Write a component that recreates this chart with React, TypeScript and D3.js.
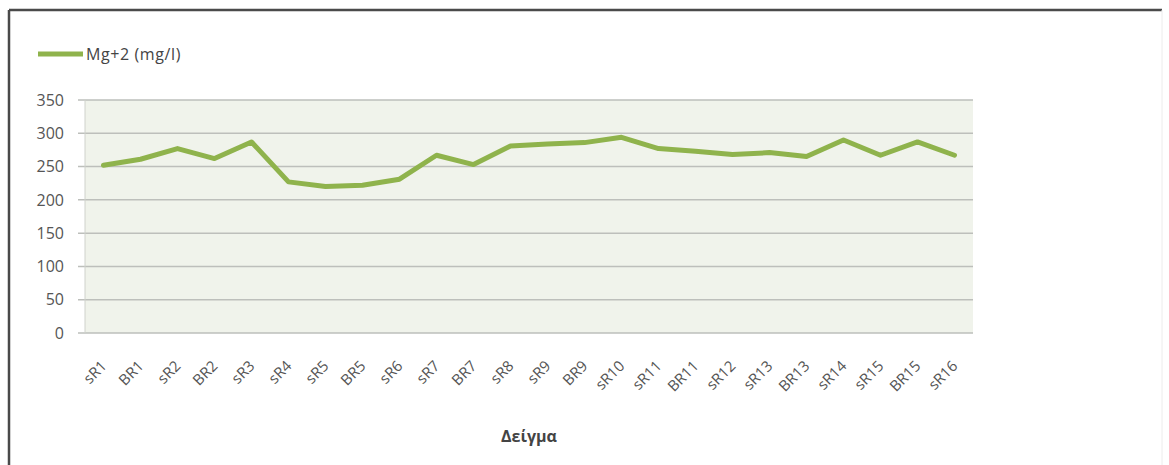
import React from "react";
import * as d3 from "d3";

const categories = [
  "sR1", "BR1", "sR2", "BR2", "sR3", "sR4", "sR5", "BR5", "sR6", "sR7", "BR7", "sR8",
  "sR9", "BR9", "sR10", "sR11", "BR11", "sR12", "sR13", "BR13", "sR14", "sR15", "BR15", "sR16",
];
const mgValues = [
  252, 261, 277, 262, 287, 227, 220, 222, 231, 267, 253, 281,
  284, 286, 294, 277, 273, 268, 271, 265, 290, 267, 287, 267,
];
const yTicks = [0, 50, 100, 150, 200, 250, 300, 350];
const seriesName = "Mg+2 (mg/l)";
const xTitle = "Δείγμα";

const W = 1169;
const H = 465;
const plot = { left: 85, right: 973, top: 100, bottom: 333 };
const lineColor = "#8fb34c";
const font = "'Open Sans', 'Noto Sans', sans-serif";

export default function App() {
  const x = d3
    .scaleBand<string>()
    .domain(categories)
    .range([plot.left, plot.right]);
  const y = d3.scaleLinear().domain([0, 350]).range([plot.bottom, plot.top]);
  const cx = (c: string) => (x(c) ?? 0) + x.bandwidth() / 2;

  const line = d3
    .line<number>()
    .x((_, i) => cx(categories[i]))
    .y((d) => y(d));

  return (
    <svg
      width={W}
      height={H}
      style={{ position: "absolute", left: 0, top: 0, background: "#fff" }}
      fontFamily={font}
    >
      {/* chart frame */}
      <line x1={9} y1={10} x2={1162} y2={10} stroke="#4a4a4a" strokeWidth={2.5} />
      <line x1={9} y1={10} x2={9} y2={H} stroke="#4a4a4a" strokeWidth={2.5} />
      <line x1={1162} y1={10} x2={1162} y2={H} stroke="#ececec" strokeWidth={1} />

      {/* legend */}
      <line x1={38} y1={54} x2={83} y2={54} stroke={lineColor} strokeWidth={5} />
      <text x={86} y={59.5} fontSize={16} fill="#444" letterSpacing={0.6}>
        {seriesName}
      </text>

      {/* plot area */}
      <rect
        x={plot.left}
        y={plot.top}
        width={plot.right - plot.left}
        height={plot.bottom - plot.top}
        fill="#f0f3eb"
      />
      {yTicks.map((t) => (
        <g key={t}>
          <line
            x1={plot.left - 7}
            x2={plot.right}
            y1={y(t)}
            y2={y(t)}
            stroke="#bdbfbb"
            strokeWidth={1.5}
          />
          <text
            x={64}
            y={y(t)}
            dy="0.36em"
            textAnchor="end"
            fontSize={16}
            fill="#555"
          >
            {t}
          </text>
        </g>
      ))}
      <line
        x1={plot.left}
        x2={plot.left}
        y1={plot.top}
        y2={plot.bottom}
        stroke="#cfd2cc"
        strokeWidth={1}
      />

      {/* series */}
      <path
        d={line(mgValues) ?? ""}
        fill="none"
        stroke={lineColor}
        strokeWidth={5}
        strokeLinejoin="round"
        strokeLinecap="round"
      />

      {/* category labels */}
      {categories.map((c) => {
        const px = cx(c) + 4;
        const py = 367;
        return (
          <text
            key={c}
            x={px}
            y={py}
            textAnchor="end"
            fontSize={15}
            fill="#555"
            transform={`rotate(-45, ${px}, ${py})`}
          >
            {c}
          </text>
        );
      })}

      {/* axis title */}
      <text
        x={(plot.left + plot.right) / 2}
        y={442}
        textAnchor="middle"
        fontSize={16}
        fontWeight="bold"
        fill="#444"
      >
        {xTitle}
      </text>
    </svg>
  );
}
